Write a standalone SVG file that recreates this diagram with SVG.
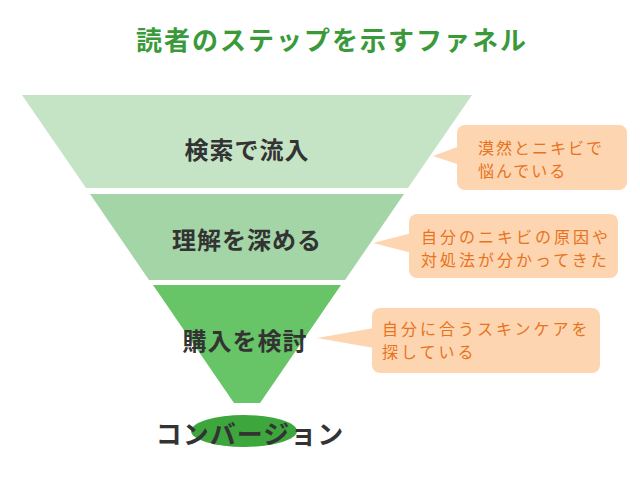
<svg xmlns="http://www.w3.org/2000/svg" width="640" height="480" viewBox="0 0 640 480">
<style>
.title{font-family:"Noto Sans CJK JP","Noto Sans",sans-serif;font-weight:bold;font-size:26px;fill:#3a9a3a;letter-spacing:2px}
.lbl{font-family:"Noto Sans CJK JP","Noto Sans",sans-serif;font-weight:bold;font-size:24px;fill:#333333;letter-spacing:1px}
.note{font-family:"Noto Sans CJK JP","Noto Sans",sans-serif;font-size:16px;fill:#e8731e;letter-spacing:3px}
.bubble{fill:#fdd6b1}
</style>
<rect width="640" height="480" fill="#ffffff"/>
<text class="title" x="332" y="50" text-anchor="middle">読者のステップを示すファネル</text>
<g id="stage1">
<polygon points="22,95 472,95 408,188 86,188" fill="#c5e4c6"/>
<text class="lbl" x="247" y="159" text-anchor="middle">検索で流入</text>
</g>
<g id="stage2">
<polygon points="90,194 404,194 345,280 149,280" fill="#a4d5a6"/>
<text class="lbl" x="247" y="249" text-anchor="middle">理解を深める</text>
</g>
<g id="stage3">
<polygon points="153,285 341,285 260,403 234,403" fill="#67c467"/>
<text class="lbl" x="245" y="350" text-anchor="middle">購入を検討</text>
</g>
<g id="conversion">
<ellipse cx="244" cy="431" rx="53" ry="16" fill="#3da63d"/>
<text class="lbl" x="250" y="444" text-anchor="middle" style="font-size:26px">コンバージョン</text>
</g>
<g id="connectors">
<polygon class="bubble" points="433,156 460,146 460,165"/>
<polygon class="bubble" points="373,243 412,233 412,253"/>
<polygon class="bubble" points="317,338 374,328 374,348"/>
</g>
<g id="note1">
<rect class="bubble" x="457" y="125" width="170" height="65" rx="8"/>
<text class="note" x="478" y="154" style="letter-spacing:2px">漠然とニキビで</text>
<text class="note" x="478" y="177" style="letter-spacing:2px">悩んでいる</text>
</g>
<g id="note2">
<rect class="bubble" x="409" y="214" width="209" height="64" rx="8"/>
<text class="note" x="421" y="243">自分のニキビの原因や</text>
<text class="note" x="421" y="266">対処法が分かってきた</text>
</g>
<g id="note3">
<rect class="bubble" x="372" y="308" width="228" height="65" rx="8"/>
<text class="note" x="382" y="335">自分に合うスキンケアを</text>
<text class="note" x="382" y="358">探している</text>
</g>
</svg>
